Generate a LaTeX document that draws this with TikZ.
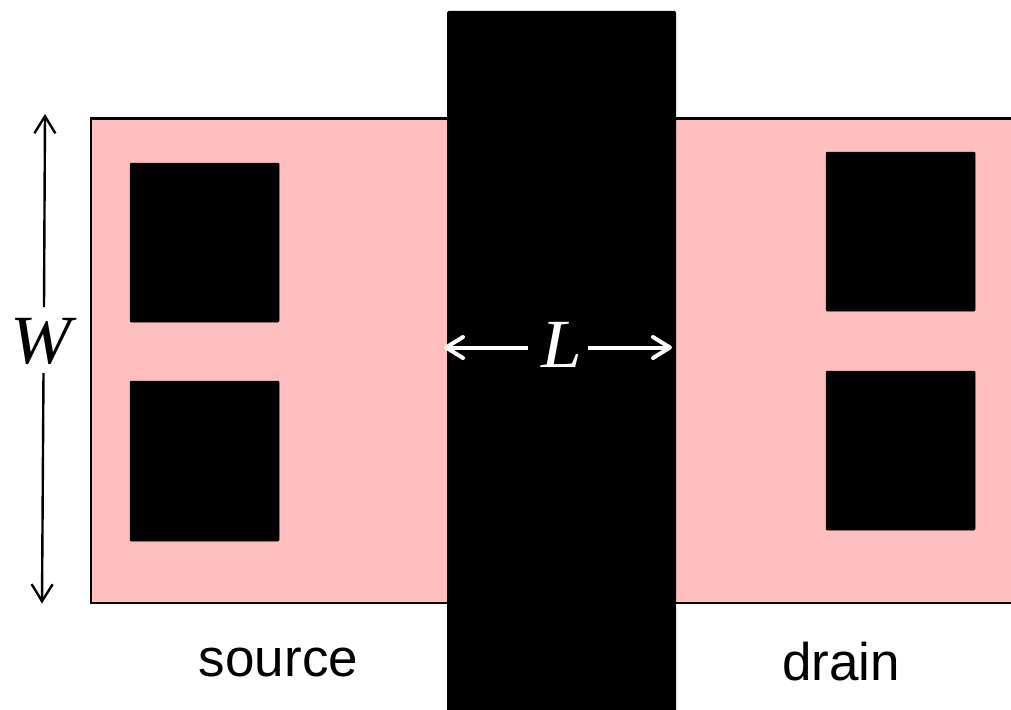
\documentclass[tikz,border=0pt]{standalone}
\usepackage{fontspec}
\setmainfont{Liberation Sans}
\newfontfamily\lserif{Liberation Serif}
\usetikzlibrary{arrows.meta}
\definecolor{pinkfill}{HTML}{FFBFBF}
\tikzset{
  contact/.style={fill=black,draw=black,line width=0.5pt,rounded corners=1pt},
  gatebar/.style={fill=black,rounded corners=1.5pt},
  diffusion/.style={fill=pinkfill,draw=black,line width=2.8pt},
  dimblack/.style={draw=black,line width=2.4pt,-{Straight Barb[length=17pt,width=21pt,line width=2.4pt]}},
  dimwhite/.style={draw=white,line width=4pt,-{Straight Barb[length=17pt,width=21pt,line width=4pt,round]}},
  caption/.style={font=\fontsize{53}{60}\selectfont,inner sep=0pt,anchor=base,text=black},
  symb/.style={font=\fontsize{69}{76}\selectfont\lserif\itshape,inner sep=0pt,anchor=base west,xscale=1.06},
}
\begin{document}
\begin{tikzpicture}[x=1pt,y=-1pt]
\useasboundingbox (0,0) rectangle (1011,709);
\clip (0,0) rectangle (1011,709);
\draw[diffusion] (91,118.5) rectangle (1030,603);
\fill[gatebar] (447,11) rectangle (676,730);
\foreach \nm/\xa/\ya/\xb/\yb in {s1/130/163/279/322, s2/130/381/279/541, d1/826/152/975/311, d2/826/371/975/530}
  \draw[contact] (\xa,\ya) rectangle (\xb,\yb);
\node[symb] (W) at (10,363) {W};
\node[symb,text=white] (L) at (541,367) {L};
\node[caption] (source) at (278.5,676) {source};
\node[caption] (drain) at (841,680) {drain};
\coordinate (wtop) at (45,114);
\coordinate (wa) at (44,307);
\coordinate (wb) at (43.5,373);
\coordinate (wbot) at (42,603.5);
\coordinate (ltip) at (444,347.5);
\coordinate (la) at (528,347.5);
\coordinate (lb) at (588,347.5);
\coordinate (rtip) at (672,347.5);
\draw[dimblack] (wa) -- (wtop);
\draw[dimblack] (wb) -- (wbot);
\draw[dimwhite] (la) -- (ltip);
\draw[dimwhite] (lb) -- (rtip);
\end{tikzpicture}
\end{document}
